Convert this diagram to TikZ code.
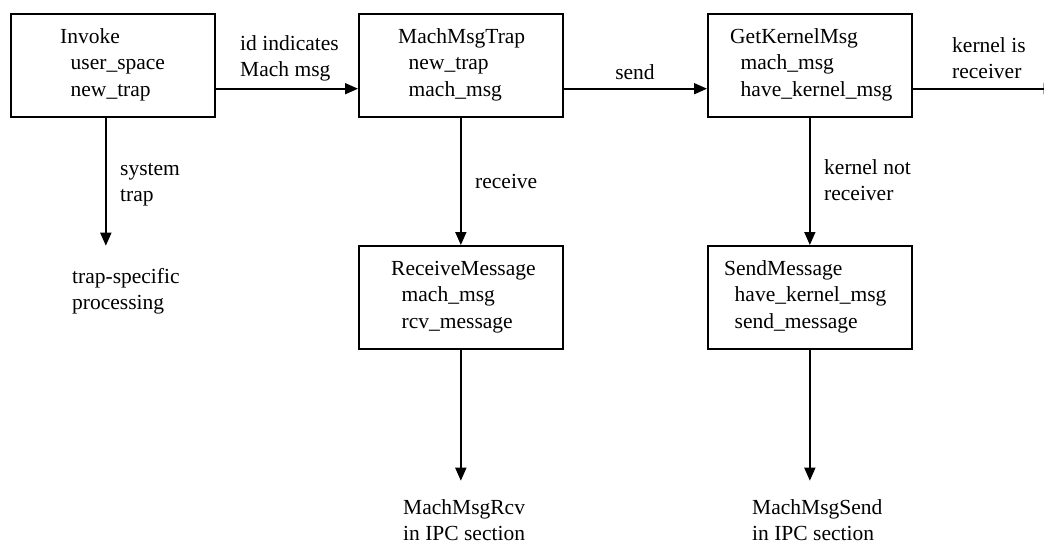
\documentclass[tikz,border=0pt]{standalone}
\usepackage{fontspec}
\setmainfont{Liberation Serif}
\usetikzlibrary{arrows.meta}
\tikzset{
  box/.style={draw, line width=1.7pt, rectangle, anchor=north west, inner sep=0pt,
    minimum width=204pt, minimum height=103pt},
  txt/.style={anchor=base west, inner sep=0pt, font=\fontsize{21.5}{26.5}\selectfont},
  ctxt/.style={anchor=base, inner sep=0pt, font=\fontsize{21.5}{26.5}\selectfont},
  conn/.style={line width=1.7pt, -{Triangle[length=13pt,width=11pt]}}
}
\newcommand{\lns}[1]{\begin{tabular}[t]{@{}l@{}}#1\end{tabular}}
\newcommand{\ind}{\hspace*{10.5pt}}
\begin{document}
\begin{tikzpicture}[x=1pt,y=-1pt]
\useasboundingbox (0,0) rectangle (1044,544);
\clip (0,0) rectangle (1044,544);
% boxes
\node[box] (inv) at (10,13) {};
\node[box] (mmt) at (358,13) {};
\node[box] (gkm) at (707,13) {};
\node[box] (rm) at (358,245) {};
\node[box] (sm) at (707,245) {};
% box texts
\node[txt] (invT) at (60,43) {\lns{Invoke\\ \ind user\_space\\ \ind new\_trap}};
\node[txt] (mmtT) at (398,43) {\lns{MachMsgTrap\\ \ind new\_trap\\ \ind mach\_msg}};
\node[txt] (gkmT) at (730,43) {\lns{GetKernelMsg\\ \ind mach\_msg\\ \ind have\_kernel\_msg}};
\node[txt] (rmT) at (391,275) {\lns{ReceiveMessage\\ \ind mach\_msg\\ \ind rcv\_message}};
\node[txt] (smT) at (724,275) {\lns{SendMessage\\ \ind have\_kernel\_msg\\ \ind send\_message}};
% free texts
\node[txt] (tsp) at (72,283) {\lns{trap-specific\\processing}};
\node[txt] (mmr) at (403,514) {\lns{MachMsgRcv\\in IPC section}};
\node[txt] (mms) at (752,514) {\lns{MachMsgSend\\in IPC section}};
% free ends
\coordinate (tspin) at ([xshift=-7pt,yshift=-128pt]inv.south);
\coordinate (rcvin) at ([yshift=-131pt]rm.south);
\coordinate (sndin) at ([yshift=-131pt]sm.south);
\coordinate (rightout) at ([xshift=144pt,yshift=29pt]gkm.south east);
% connectors
\draw[conn] ([yshift=29pt]inv.south east) -- ([yshift=29pt]mmt.south west);
\draw[conn] ([yshift=29pt]mmt.south east) -- ([yshift=29pt]gkm.south west);
\draw[conn] ([yshift=29pt]gkm.south east) -- (rightout);
\draw[conn] (inv.south -| tspin) -- (tspin);
\draw[conn] (mmt.south) -- (rm.north);
\draw[conn] (gkm.south) -- (sm.north);
\draw[conn] (rm.south) -- (rcvin);
\draw[conn] (sm.south) -- (sndin);
% edge labels
\node[txt] (l1) at (240,50) {\lns{id indicates\\Mach msg}};
\node[ctxt] (l2) at (635,79) {send};
\node[txt] (l3) at (952,52) {\lns{kernel is\\receiver}};
\node[txt] (l4) at (120,175) {\lns{system\\trap}};
\node[txt] (l5) at (475,188) {receive};
\node[txt] (l6) at (824,174) {\lns{kernel not\\receiver}};
\end{tikzpicture}
\end{document}
